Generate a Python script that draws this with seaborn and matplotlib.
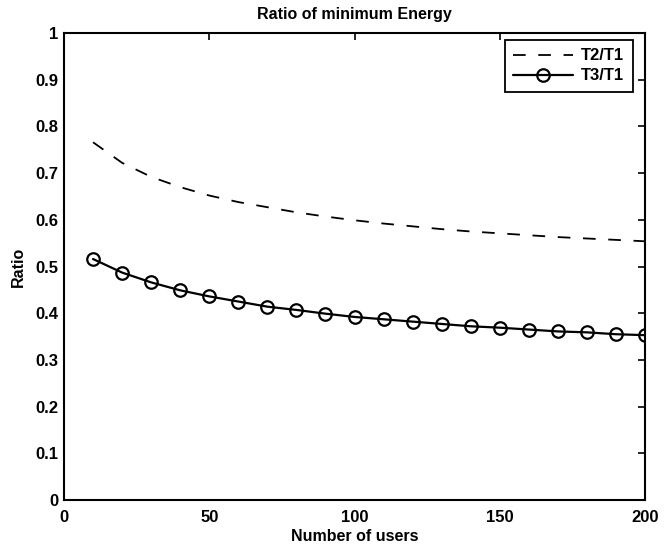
import matplotlib
matplotlib.use("Agg")
import matplotlib.pyplot as plt
import seaborn as sns
import pandas as pd

users = [10, 20, 30, 40, 50, 60, 70, 80, 90, 100,
         110, 120, 130, 140, 150, 160, 170, 180, 190, 200]
ratio_t2_t1 = [0.766, 0.722, 0.692, 0.670, 0.652, 0.638, 0.627, 0.616, 0.607, 0.599,
               0.592, 0.586, 0.580, 0.575, 0.571, 0.567, 0.563, 0.560, 0.557, 0.554]
ratio_t3_t1 = [0.516, 0.487, 0.466, 0.449, 0.436, 0.425, 0.414, 0.407, 0.399, 0.392,
               0.387, 0.382, 0.377, 0.372, 0.369, 0.365, 0.361, 0.359, 0.355, 0.353]
series_names = ["T2/T1", "T3/T1"]
x_ticks = [0, 50, 100, 150, 200]
y_ticks = [0, 0.1, 0.2, 0.3, 0.4, 0.5, 0.6, 0.7, 0.8, 0.9, 1]
y_tick_labels = ["0", "0.1", "0.2", "0.3", "0.4", "0.5", "0.6", "0.7", "0.8", "0.9", "1"]

sns.set_style("white")
plt.rcParams["font.family"] = ["Liberation Sans", "DejaVu Sans"]
plt.rcParams["font.weight"] = "bold"
plt.rcParams["text.color"] = "black"
plt.rcParams["axes.labelcolor"] = "black"

df = pd.DataFrame({
    "users": users * 2,
    "ratio": ratio_t2_t1 + ratio_t3_t1,
    "series": [series_names[0]] * len(users) + [series_names[1]] * len(users),
})

fig = plt.figure(figsize=(6.64, 5.52), dpi=100)
ax = fig.add_axes([0.0964, 0.0942, 0.875, 0.846])

sns.lineplot(data=df[df.series == series_names[0]], x="users", y="ratio",
             color="black", linewidth=1.3, ax=ax, label=series_names[0],
             dashes=False)
ax.lines[-1].set_dashes((7, 7))
sns.lineplot(data=df[df.series == series_names[1]], x="users", y="ratio",
             color="black", linewidth=1.6, marker="o", markersize=9,
             markerfacecolor="none", markeredgecolor="black", markeredgewidth=1.6,
             ax=ax, label=series_names[1])

ax.set_xlim(0, 200)
ax.set_ylim(0, 1)
ax.set_xticks(x_ticks)
ax.set_xticklabels([str(t) for t in x_ticks])
ax.set_yticks(y_ticks)
ax.set_yticklabels(y_tick_labels)
ax.tick_params(direction="in", length=5, width=1.2, top=True, right=True,
               labelsize=12, colors="black")
ax.tick_params(axis="x", pad=7)
ax.tick_params(axis="y", pad=4)
for lbl in ax.get_xticklabels() + ax.get_yticklabels():
    lbl.set_fontweight("bold")
for s in ax.spines.values():
    s.set_visible(True)
    s.set_color("black")
    s.set_linewidth(1.5)

ax.set_title("Ratio of minimum Energy", fontsize=11.5, fontweight="bold",
             pad=10, color="black")
ax.set_xlabel("Number of users", fontsize=11.5, fontweight="bold", labelpad=3)
ax.set_ylabel("Ratio", fontsize=11.5, fontweight="bold", labelpad=7)

leg = ax.legend(loc="upper right", bbox_to_anchor=(0.979, 0.985),
                fontsize=12, frameon=True, fancybox=False,
                edgecolor="black", framealpha=1, handlelength=3.6,
                borderpad=0.5, labelspacing=0.3, borderaxespad=0.0,
                handletextpad=0.5)
leg.get_frame().set_linewidth(1.3)
for t in leg.get_texts():
    t.set_fontweight("bold")
    t.set_color("black")

fig.savefig("out.png", dpi=100, facecolor="white")
